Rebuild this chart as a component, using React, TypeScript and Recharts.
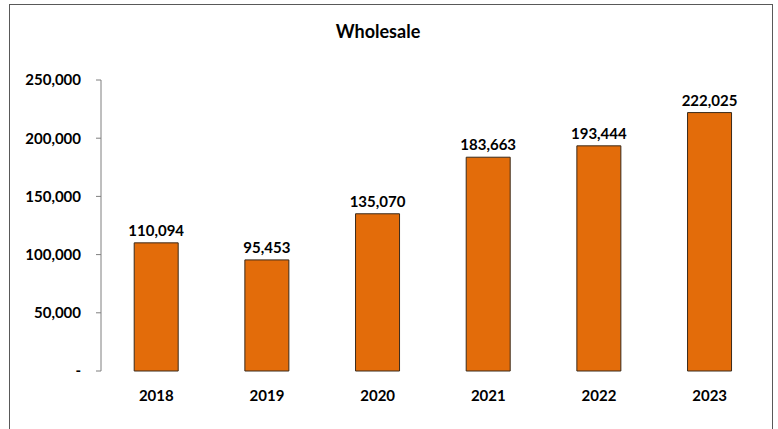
import { BarChart, Bar, XAxis, YAxis, LabelList } from "recharts";

const YEARS = ["2018", "2019", "2020", "2021", "2022", "2023"];
const WHOLESALE = [110094, 95453, 135070, 183663, 193444, 222025];
const Y_TICKS = [0, 50000, 100000, 150000, 200000, 250000];

const FONT = "Lato, 'Open Sans', sans-serif";
const BAR = "#E36C0A";
const INK = "#000000";

const data = YEARS.map((year, i) => ({ year, value: WHOLESALE[i] }));

const fmt = (v: number) => (v === 0 ? "-" : v.toLocaleString("en-US"));

export default function App() {
  return (
    <div style={{ position: "fixed", left: 0, top: 0, width: 778, height: 429, background: "#fff", fontFamily: FONT }}>
      <div
        style={{
          position: "absolute",
          left: 9,
          top: 4,
          width: 762,
          height: 440,
          border: "1px solid #595959",
        }}
      />
      <div
        style={{
          position: "absolute",
          left: 0,
          width: 756,
          top: 20,
          textAlign: "center",
          fontWeight: 700,
          fontSize: 18,
          color: INK,
        }}
      >
        Wholesale
      </div>
      <div style={{ position: "absolute", left: 0, top: 0 }}>
        <BarChart width={778} height={429} data={data} margin={{ top: 80, right: 13, left: 0, bottom: 28 }} barCategoryGap="30%">
          <YAxis
            domain={[0, 250000]}
            ticks={Y_TICKS}
            width={101}
            tickFormatter={fmt}
            tick={{ fontSize: 15, fontWeight: 700, fill: INK, fontFamily: FONT }}
            axisLine={{ stroke: "#7f7f7f" }}
            tickLine={{ stroke: "#7f7f7f" }}
            tickSize={5}
            tickMargin={15}
          />
          <XAxis
            dataKey="year"
            height={30}
            axisLine={false}
            tickLine={false}
            tickMargin={13}
            tick={{ fontSize: 15, fontWeight: 700, fill: INK, fontFamily: FONT }}
          />
          <Bar dataKey="value" fill={BAR} stroke="#3a2a1a" strokeWidth={1} isAnimationActive={false}>
            <LabelList
              dataKey="value"
              position="top"
              offset={7}
              formatter={(v: any) => Number(v).toLocaleString("en-US")}
              style={{ fontSize: 15, fontWeight: 700, fill: INK, fontFamily: FONT }}
            />
          </Bar>
        </BarChart>
      </div>
    </div>
  );
}
